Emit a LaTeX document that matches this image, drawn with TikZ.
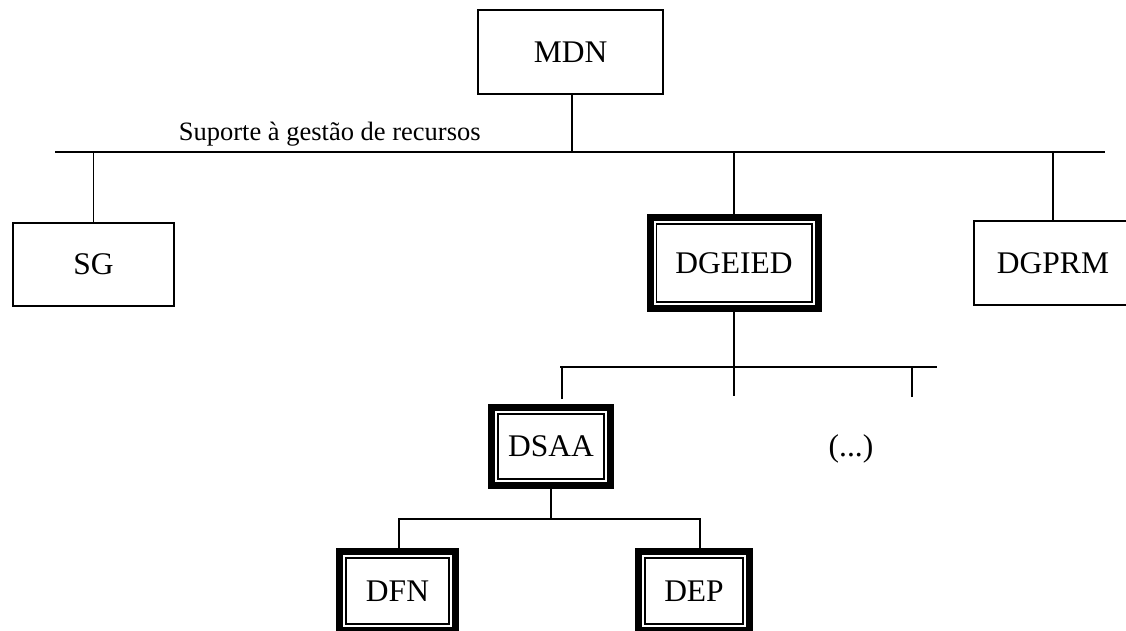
\documentclass[tikz,border=0pt]{standalone}
\usepackage{fontspec}
\setmainfont{Liberation Serif}
\begin{document}
\begin{tikzpicture}[x=1pt,y=1pt,line width=1.8pt,
  unit/.style={draw,line width=1.8pt,inner sep=0pt,outer sep=0pt,
    font=\fontsize{31.5}{38}\selectfont},
  framed/.style={unit,line width=7pt},
  inner frame/.style={line width=1.8pt},
  small/.style={inner sep=0pt,font=\fontsize{26.5}{32}\selectfont}]
  \useasboundingbox (0,0) rectangle (1126,630);
  \node[unit,minimum width=185,minimum height=84] (mdn) at (570.5,578) {MDN};
  \node[unit,minimum width=161,minimum height=83] (sg) at (93.5,365.5) {SG};
  \node[framed,minimum width=168,minimum height=91] (dgeied) at (734,367) {DGEIED};
  \node[unit,minimum width=158,minimum height=84] (dgprm) at (1053,367) {DGPRM};
  \node[framed,minimum width=119,minimum height=78] (dsaa) at (551,183.5) {DSAA};
  \node[framed,minimum width=116,minimum height=79] (dfn) at (397.5,39) {DFN};
  \node[framed,minimum width=111,minimum height=79] (dep) at (694,39) {DEP};
  \foreach \n in {dgeied,dsaa,dfn,dep}
    \draw[inner frame] ([shift={(6.4,-6.4)}]\n.north west) rectangle ([shift={(-6.4,6.4)}]\n.south east);
  \node[small,anchor=base west] (lbl) at (178,489) {Suporte à gestão de recursos};
  \node[inner sep=0pt,anchor=base,font=\fontsize{31.5}{38}\selectfont] (more) at (851,174) {(...)};
  \coordinate (busw) at (55,478);
  \coordinate (buse) at (1105,478);
  \draw (busw) -- (buse);
  \draw ([xshift=1.5]mdn.south) -- ([xshift=1.5]mdn.south |- busw);
  \foreach \n in {sg,dgeied,dgprm}
    \draw (\n.north) -- (\n.north |- busw);
  \coordinate (subw) at (560,263);
  \coordinate (sube) at (937,263);
  \coordinate (dot1) at (562,231);
  \coordinate (dot2) at (734,234);
  \coordinate (dot3) at (912,233);
  \draw (subw) -- (sube);
  \draw (dgeied) -- (dot2);
  \draw (dot1) -- (dot1 |- subw);
  \draw (dot3) -- (dot3 |- subw);
  \coordinate (j3) at (551,111);
  \draw (dsaa) -- (j3);
  \draw ([xshift=1.5]dfn.north) |- (j3) -| ([xshift=6]dep.north);
\end{tikzpicture}
\end{document}
